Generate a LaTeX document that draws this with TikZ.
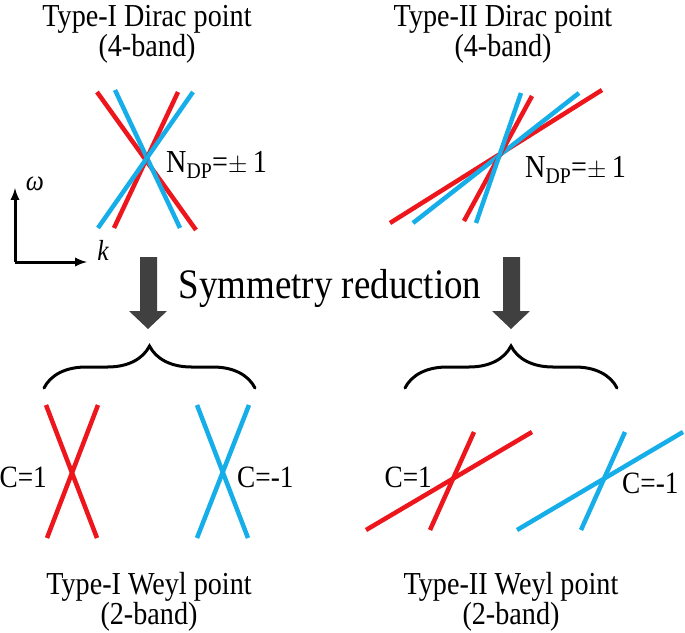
\documentclass[tikz,border=0pt]{standalone}
\usepackage{fontspec}
\setmainfont{Liberation Serif}[FakeStretch=0.88]
\usetikzlibrary{calc,arrows}
\usetikzlibrary{decorations.pathreplacing,calligraphy}
\usepackage{xcolor}
\definecolor{bandred}{RGB}{236,22,28}
\definecolor{bandblue}{RGB}{22,174,232}
\definecolor{arrowgray}{RGB}{64,64,64}

\tikzset{
	redband/.style={line width=4.5pt, bandred},
	blueband/.style={line width=4.5pt, bandblue},
	titletext/.style={font=\fontsize{32}{30}\selectfont, align=center, inner sep=0pt},
	chargetext/.style={font=\fontsize{31}{29}\selectfont, inner sep=0pt},
	bigarrow/.style={fill=arrowgray, draw=none},
	bracket/.style={line width=3pt, line cap=round, decorate, decoration={brace, amplitude=42pt}}
}

\begin{document}
\begin{tikzpicture}[x=1pt,y=-1pt]
		\useasboundingbox (0,0) rectangle (685,632);
		
		% titles
		\node[titletext] (diracI) at (147,34) {Type-I Dirac point\\(4-band)};
		\node[titletext] (diracII) at (503,34) {Type-II Dirac point\\(4-band)};
		\node[titletext] (weylI) at (149,602) {Type-I Weyl point\\(2-band)};
		\node[titletext] (weylII) at (511,602) {Type-II Weyl point\\(2-band)};
		
		% type-I Dirac cone
		\draw[redband] (97,92) -- (196,230);
		\draw[blueband] (115,90) -- (180,228);
		\draw[redband] (178,92) -- (114,228);
		\draw[blueband] (193,92) -- (98,228);
		\node[titletext, anchor=base west] (ndpI) at (166,172) {N\textsubscript{DP}=$\pm$\,1};
		
		% type-II Dirac cone
		\draw[redband] (390,223) -- (602,90);
		\draw[blueband] (413,223) -- (579,93);
		\draw[redband] (464,221) -- (532,96);
		\draw[blueband] (476,223) -- (521,93);
		\node[titletext, anchor=base west] (ndpII) at (525,177) {N\textsubscript{DP}=$\pm$\,1};
		
		% axes
		\coordinate (origin) at (15,262);
		\draw[line width=3pt, -latex] (origin) -- (15,188);
		\draw[line width=3pt, -latex] (origin) -- (87,262);
		\node[chargetext, font=\fontsize{29}{28}\selectfont\itshape] (omega) at (35,184) {ω};
		\node[chargetext, font=\fontsize{29}{28}\selectfont\itshape] (k) at (103,250) {k};
		
		% reduction arrows
		\filldraw[bigarrow] (140,257) -- (157,257) -- (157,311) -- (167,311) -- (148,329) -- (129,311) -- (140,311) -- cycle;
		\filldraw[bigarrow] (503,257) -- (520,257) -- (520,311) -- (530,311) -- (511,329) -- (492,311) -- (503,311) -- cycle;
		\node[font=\fontsize{42}{40}\selectfont, inner sep=0pt, anchor=base] (reduction) at (330,298) {Symmetry reduction};
		
		% braces
		\draw[bracket] (44,388) -- (255,388);
		\draw[bracket] (405,388) -- (617,388);
		
		% type-I Weyl points
		\draw[redband] (46,405) -- (97,538);
		\draw[redband] (98,405) -- (47,538);
		\node[chargetext, anchor=east] (cI) at (47,477) {C=1};
		\draw[blueband] (197,405) -- (248,538);
		\draw[blueband] (249,405) -- (197,538);
		\node[chargetext, anchor=west] (cmI) at (237,477) {C=-1};
		
		% type-II Weyl points
		\draw[redband] (366,530) -- (532,432);
		\draw[redband] (430,530) -- (474,432);
		\node[chargetext, anchor=east] (cII) at (432,477) {C=1};
		\draw[blueband] (517,530) -- (683,432);
		\draw[blueband] (581,530) -- (625,432);
		\node[chargetext, anchor=west] (cmII) at (622,483) {C=-1};
	\end{tikzpicture}
\end{document}
